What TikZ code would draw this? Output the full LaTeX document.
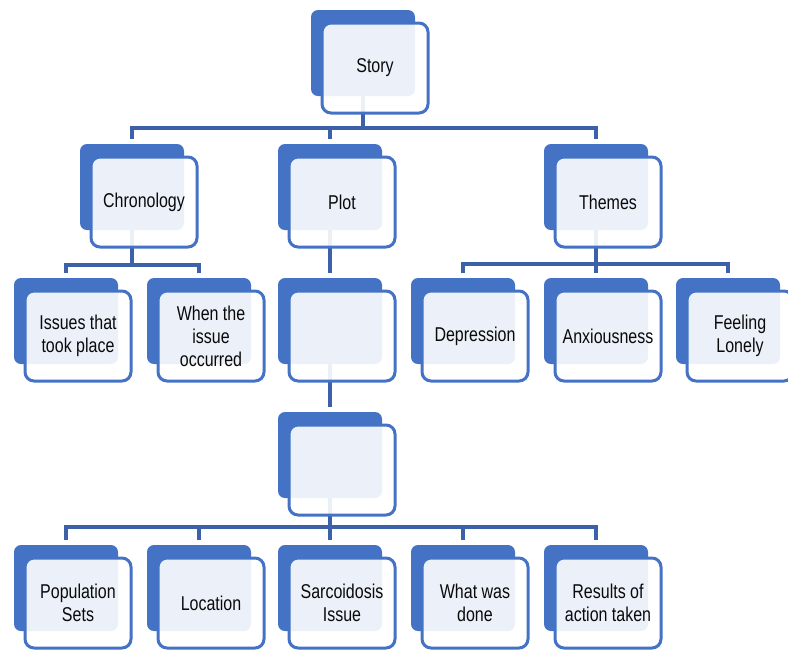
\documentclass[tikz,border=0pt]{standalone}
\usepackage{fontspec}
\setmainfont{Liberation Sans}[FakeStretch=0.8]
\definecolor{boxblue}{HTML}{4472C4}
\definecolor{linkblue}{HTML}{3D61A8}
\definecolor{txt}{HTML}{0A0A0A}
\newcommand\backpair[3]{\node[backbox] (#1B) at (#2,{#3+43}) {};}
\newcommand\frontpair[4]{\node[frontbox] (#1) at ({#2+12},{#3+58}) {#4};}
\begin{document}
\begin{tikzpicture}[x=1pt,y=-1pt,
  backbox/.style={rectangle, rounded corners=7pt, fill=boxblue, minimum width=104pt, minimum height=86pt, inner sep=0pt},
  frontbox/.style={rectangle, rounded corners=9pt, draw=boxblue, line width=3pt, fill=white, fill opacity=0.9, draw opacity=1, text opacity=1, minimum width=106pt, minimum height=90pt, inner sep=2pt, align=center, font=\fontsize{20}{23}\selectfont, text=txt},
  link/.style={draw=linkblue, line width=3.2pt}]
\useasboundingbox (0,0) rectangle (788,649);
\clip (0,0) rectangle (788,649);
% back rectangles
\backpair{story}{363}{10}
\backpair{chron}{132}{144}
\backpair{plot}{330}{144}
\backpair{themes}{596}{144}
\backpair{issues}{66}{278}
\backpair{when}{199}{278}
\backpair{pa}{330}{278}
\backpair{dep}{463}{278}
\backpair{anx}{596}{278}
\backpair{lonely}{728}{278}
\backpair{pb}{330}{412}
\backpair{pop}{66}{545}
\backpair{loc}{199}{545}
\backpair{sarc}{330}{545}
\backpair{what}{463}{545}
\backpair{res}{596}{545}
% bar levels
\coordinate (barA) at (0,128);
\coordinate (barB) at (0,265);
\coordinate (barC) at (0,264);
\coordinate (barD) at (0,527);
% connectors
\draw[link] (storyB.south) -- (storyB |- barA);
\draw[link] ([yshift=5pt]chronB.north) -- (chronB |- barA) -- (themesB |- barA) -- ([yshift=5pt]themesB.north);
\draw[link] (plotB |- barA) -- ([yshift=5pt]plotB.north);
\draw[link] (chronB.south) -- (chronB |- barB);
\draw[link] ([yshift=5pt]issuesB.north) -- (issuesB |- barB) -- (whenB |- barB) -- ([yshift=5pt]whenB.north);
\draw[link] (themesB.south) -- (themesB |- barC);
\draw[link] ([yshift=5pt]depB.north) -- (depB |- barC) -- (lonelyB |- barC) -- ([yshift=5pt]lonelyB.north);
\draw[link] (anxB |- barC) -- ([yshift=5pt]anxB.north);
\draw[link] (plotB.south) -- ([yshift=5pt]paB.north);
\draw[link] (paB.south) -- ([yshift=5pt]pbB.north);
\draw[link] (pbB.south) -- (pbB |- barD);
\draw[link] ([yshift=5pt]popB.north) -- (popB |- barD) -- (resB |- barD) -- ([yshift=5pt]resB.north);
\draw[link] (locB |- barD) -- ([yshift=5pt]locB.north);
\draw[link] (sarcB |- barD) -- ([yshift=5pt]sarcB.north);
\draw[link] (whatB |- barD) -- ([yshift=5pt]whatB.north);
% front rectangles
\frontpair{story}{363}{10}{Story}
\frontpair{chron}{132}{144}{Chronology}
\frontpair{plot}{330}{144}{Plot}
\frontpair{themes}{596}{144}{Themes}
\frontpair{issues}{66}{278}{Issues that\\took place}
\frontpair{when}{199}{278}{When the\\issue\\occurred}
\frontpair{pa}{330}{278}{}
\frontpair{dep}{463}{278}{Depression}
\frontpair{anx}{596}{278}{Anxiousness}
\frontpair{lonely}{728}{278}{Feeling\\Lonely}
\frontpair{pb}{330}{412}{}
\frontpair{pop}{66}{545}{Population\\Sets}
\frontpair{loc}{199}{545}{Location}
\frontpair{sarc}{330}{545}{Sarcoidosis\\Issue}
\frontpair{what}{463}{545}{What was\\done}
\frontpair{res}{596}{545}{Results of\\action taken}
\end{tikzpicture}
\end{document}
